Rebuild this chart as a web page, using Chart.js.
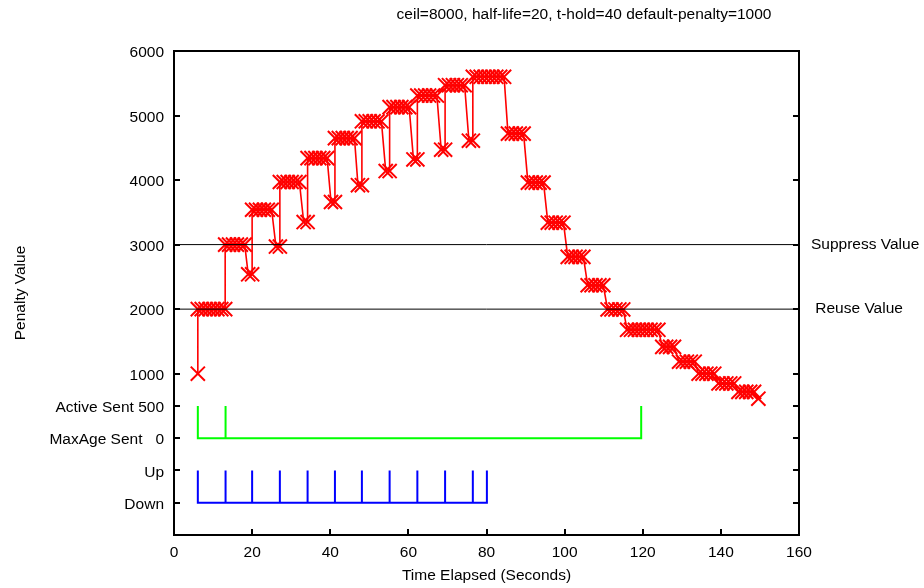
<!DOCTYPE html>
<html>
<head>
<meta charset="utf-8">
<script src="https://cdn.jsdelivr.net/npm/chart.js@4.4.1/dist/chart.umd.min.js"></script>
<style>
html,body{margin:0;padding:0;background:#fff;}
#wrap{width:924px;height:588px;}
</style>
</head>
<body>
<div id="wrap"><canvas id="c" width="924" height="588"></canvas></div>
<script>
// ---------- data ----------
const chartTitle = "ceil=8000, half-life=20, t-hold=40 default-penalty=1000";
const xTickValues = [0, 20, 40, 60, 80, 100, 120, 140, 160];
const yTickValues = [-1000, -500, 0, 500, 1000, 2000, 3000, 4000, 5000, 6000];
const yTickLabels = {"-1000": "Down", "-500": "Up", "0": "MaxAge Sent   0", "500": "Active Sent 500"};
const rightTickValues = [2000, 3000];
const rightTickLabels = {"2000": " Reuse Value", "3000": "Suppress Value"};
const suppressValue = 3000;
const reuseValue = 2000;

// penalty samples (time, value)
const penaltyX = [
  6.1,
  6.1, 7.1, 8.1, 9.1, 10.1, 11.1, 12.1, 13.1,
  13.1, 14.1, 15.1, 16.1, 17.1, 18.1,
  19.0, 20.0,
  20.0, 21.0, 22.0, 23.0, 24.0, 25.0,
  26.1, 27.1,
  27.1, 28.1, 29.1, 30.1, 31.1, 32.1,
  33.2, 34.2,
  34.2, 35.2, 36.2, 37.2, 38.2, 39.2,
  40.2, 41.2,
  41.2, 42.2, 43.2, 44.2, 45.2, 46.2,
  47.1, 48.1,
  48.1, 49.1, 50.1, 51.1, 52.1, 53.1,
  54.2, 55.2,
  55.2, 56.2, 57.2, 58.2, 59.2, 60.2,
  61.3, 62.3,
  62.3, 63.3, 64.3, 65.3, 66.3, 67.3,
  68.4, 69.4,
  69.4, 70.4, 71.4, 72.4, 73.4, 74.4,
  75.5, 76.5,
  76.5, 77.5, 78.5, 79.5, 80.5, 81.5, 82.5, 83.5, 84.5,
  85.5, 86.5, 87.5, 88.5, 89.5,
  90.6, 91.6, 92.6, 93.6, 94.6,
  95.7, 96.7, 97.7, 98.7, 99.7,
  100.8, 101.8, 102.8, 103.8, 104.8,
  105.9, 106.9, 107.9, 108.9, 109.9,
  111.0, 112.0, 113.0, 114.0, 115.0,
  116.0, 117.0, 118.0, 119.0, 120.0, 121.0, 122.0, 123.0, 124.0,
  125.0, 126.0, 127.0, 128.0,
  129.3, 130.3, 131.3, 132.3, 133.3,
  134.3, 135.3, 136.3, 137.3, 138.3,
  139.4, 140.4, 141.4, 142.4, 143.4,
  144.5, 145.5, 146.5, 147.5, 148.5,
  149.6
];
const penaltyY = [
  1000,
  2000, 2000, 2000, 2000, 2000, 2000, 2000, 2000,
  3000, 3000, 3000, 3000, 3000, 3000,
  2540, 2540,
  3540, 3540, 3540, 3540, 3540, 3540,
  2970, 2970,
  3970, 3970, 3970, 3970, 3970, 3970,
  3350, 3350,
  4340, 4340, 4340, 4340, 4340, 4340,
  3660, 3660,
  4650, 4650, 4650, 4650, 4650, 4650,
  3920, 3920,
  4910, 4910, 4910, 4910, 4910, 4910,
  4140, 4140,
  5130, 5130, 5130, 5130, 5130, 5130,
  4320, 4320,
  5310, 5310, 5310, 5310, 5310, 5310,
  4470, 4470,
  5470, 5470, 5470, 5470, 5470, 5470,
  4610, 4610,
  5600, 5600, 5600, 5600, 5600, 5600, 5600, 5600, 5600,
  4720, 4720, 4720, 4720, 4720,
  3960, 3960, 3960, 3960, 3960,
  3340, 3340, 3340, 3340, 3340,
  2810, 2810, 2810, 2810, 2810,
  2370, 2370, 2370, 2370, 2370,
  1995, 1995, 1995, 1995, 1995,
  1680, 1680, 1680, 1680, 1680, 1680, 1680, 1680, 1680,
  1415, 1415, 1415, 1415,
  1185, 1185, 1185, 1185, 1185,
  1000, 1000, 1000, 1000, 1000,
  848, 848, 848, 848, 848,
  718, 718, 718, 718, 718,
  612
];

// route state trace (Up = -500, Down = -1000)
const routeX = [6.1, 6.1, 13.2, 13.2, 13.2, 20.0, 20.0, 20.0, 27.1, 27.1, 27.1, 34.2, 34.2, 34.2,
  41.2, 41.2, 41.2, 48.1, 48.1, 48.1, 55.2, 55.2, 55.2, 62.3, 62.3, 62.3, 69.4, 69.4, 69.4,
  76.5, 76.5, 76.5, 80.1, 80.1];
const routeY = [-500, -1000, -1000, -500, -1000, -1000, -500, -1000, -1000, -500, -1000, -1000, -500, -1000,
  -1000, -500, -1000, -1000, -500, -1000, -1000, -500, -1000, -1000, -500, -1000, -1000, -500, -1000,
  -1000, -500, -1000, -1000, -500];

// advertisement trace (Active Sent = 500, MaxAge Sent = 0)
const advX = [6.1, 6.1, 13.2, 13.2, 13.2, 119.6, 119.6];
const advY = [500, 0, 0, 500, 0, 0, 500];

// ---------- chart ----------
const FONT = {family: "'Liberation Sans', Arial, Helvetica, sans-serif", size: 15.5};
const pts = (xs, ys) => xs.map((x, i) => ({x: x, y: ys[i]}));

const framePlugin = {
  id: 'frame',
  afterDatasetsDraw(chart) {
    const {ctx, chartArea: a, scales} = chart;
    ctx.save();
    ctx.strokeStyle = '#000';
    ctx.lineWidth = 2;
    const L = 6;
    ctx.beginPath();
    yTickValues.forEach(v => {
      const y = Math.round(scales.y.getPixelForValue(v));
      ctx.moveTo(a.left, y); ctx.lineTo(a.left + L, y);
      ctx.moveTo(a.right, y); ctx.lineTo(a.right - L, y);
    });
    xTickValues.forEach(v => {
      const x = Math.round(scales.x.getPixelForValue(v));
      ctx.moveTo(x, a.bottom); ctx.lineTo(x, a.bottom - L);
    });
    ctx.stroke();
    ctx.strokeRect(a.left, a.top, a.right - a.left, a.bottom - a.top);
    ctx.restore();
  },
  afterDraw(chart) {
    const {ctx} = chart;
    ctx.save();
    ctx.fillStyle = '#000';
    ctx.font = "15.5px 'Liberation Sans', Arial, sans-serif";
    ctx.textAlign = 'center';
    ctx.textBaseline = 'middle';
    ctx.fillText(chartTitle, 584, 15);
    ctx.restore();
  }
};

new Chart(document.getElementById('c'), {
  type: 'line',
  data: {
    datasets: [
      {data: [{x: 0, y: suppressValue}, {x: 160, y: suppressValue}], borderColor: '#000', borderWidth: 1, pointRadius: 0, fill: false},
      {data: [{x: 0, y: reuseValue}, {x: 160, y: reuseValue}], borderColor: '#000', borderWidth: 1, pointRadius: 0, fill: false},
      {data: pts(advX, advY), borderColor: '#00ff00', borderWidth: 2, pointRadius: 0, fill: false},
      {data: pts(routeX, routeY), borderColor: '#0000ff', borderWidth: 2, pointRadius: 0, fill: false},
      {data: pts(penaltyX, penaltyY), borderColor: '#ff0000', borderWidth: 1.6, pointStyle: 'crossRot',
       pointRadius: 10, pointBorderWidth: 2, pointBorderColor: '#ff0000', fill: false}
    ]
  },
  options: {
    responsive: false,
    animation: false,
    devicePixelRatio: 1,
    elements: {line: {tension: 0}},
    layout: {padding: {top: 51, left: 0, right: 0, bottom: 0}},
    plugins: {legend: {display: false}, tooltip: {enabled: false}, title: {display: false}},
    scales: {
      x: {
        type: 'linear', position: 'bottom', min: 0, max: 160,
        grid: {display: false, drawTicks: false}, border: {display: false},
        afterBuildTicks(s) { s.ticks = xTickValues.map(v => ({value: v})); },
        ticks: {padding: 8, color: '#000', font: FONT, maxRotation: 0, autoSkip: false},
        title: {display: true, text: 'Time Elapsed (Seconds)', color: '#000', font: FONT, padding: {top: 0, bottom: 3}},
        afterFit(s) { s.height = 53; }
      },
      y: {
        type: 'linear', position: 'left', min: -1500, max: 6000,
        grid: {display: false, drawTicks: false}, border: {display: false},
        afterBuildTicks(s) { s.ticks = yTickValues.map(v => ({value: v})); },
        ticks: {
          padding: 10, labelOffset: 2, color: '#000', font: FONT, autoSkip: false,
          callback: (v) => (yTickLabels[String(v)] !== undefined ? yTickLabels[String(v)] : String(v))
        },
        title: {display: true, text: 'Penalty Value', color: '#000', font: FONT, padding: {top: 11, bottom: 0}},
        afterFit(s) { s.width = 174; }
      },
      y2: {
        type: 'linear', position: 'right', min: -1500, max: 6000,
        grid: {display: false, drawTicks: false}, border: {display: false},
        afterBuildTicks(s) { s.ticks = rightTickValues.map(v => ({value: v})); },
        ticks: {
          padding: 12, color: '#000', font: FONT, autoSkip: false,
          callback: (v) => rightTickLabels[String(v)]
        },
        afterFit(s) { s.width = 125; }
      }
    }
  },
  plugins: [framePlugin]
});
</script>
</body>
</html>
